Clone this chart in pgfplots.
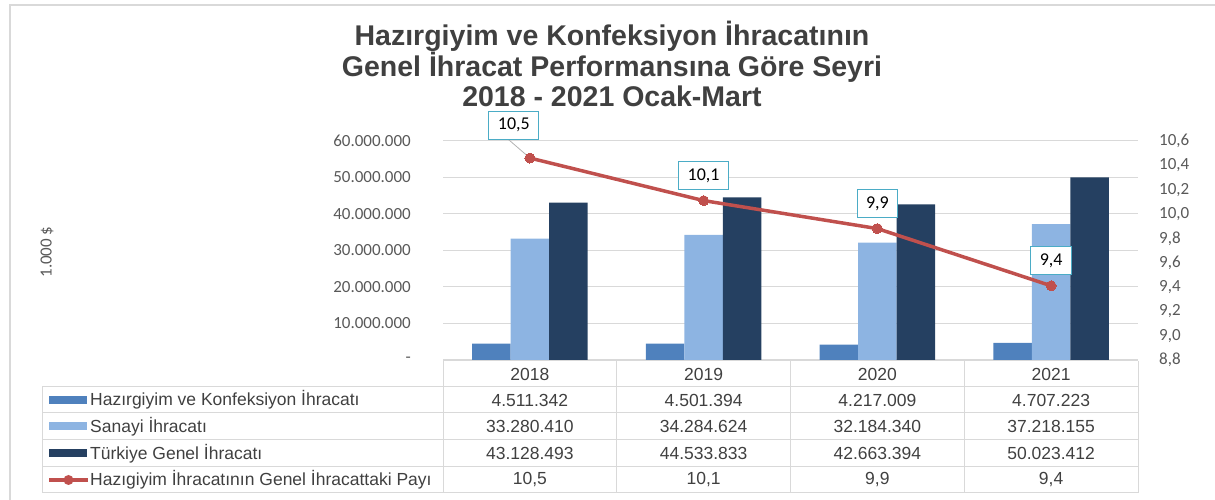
\documentclass[border=0pt]{standalone}
\usepackage{pgfplots}
\pgfplotsset{compat=1.18}
\usepackage{fontspec}
\setmainfont{Carlito}
\newfontfamily\titlefont{Liberation Sans}
\newfontfamily\tabfont{Liberation Sans}
\definecolor{cA}{RGB}{79,129,189}
\definecolor{cB}{RGB}{141,180,226}
\definecolor{cC}{RGB}{37,64,97}
\definecolor{cred}{RGB}{192,80,77}
\definecolor{cteal}{RGB}{75,172,198}
\definecolor{gridgray}{RGB}{217,217,217}
\definecolor{tickgray}{RGB}{89,89,89}
\definecolor{txtgray}{RGB}{64,64,64}
\begin{document}
\begin{tikzpicture}[x=1pt,y=1pt]
\useasboundingbox (0,0) rectangle (1215,500);
\draw[line width=1.5pt, gridgray] (10,0) -- (10,495) -- (1215,495);
\node[align=center, text=txtgray, font=\titlefont\bfseries\fontsize{28.5}{30.5}\selectfont] at (612,436)
  {Hazırgiyim ve Konfeksiyon İhracatının\\Genel İhracat Performansına Göre Seyri\\2018 - 2021 Ocak-Mart};
\node[rotate=90, text=tickgray, font=\fontsize{17}{20}\selectfont] at (47,248) {1.000 \$};

\begin{axis}[at={(443pt,140pt)}, anchor=south west, scale only axis,
  width=695pt, height=219pt,
  xmin=-0.5, xmax=3.5, ymin=0, ymax=60000000,
  ybar, bar width=38.5pt,
  xtick=\empty, scaled y ticks=false,
  ytick={0,10000000,20000000,30000000,40000000,50000000,60000000},
  yticklabels={-\hspace{7pt},10.000.000,20.000.000,30.000.000,40.000.000,50.000.000,60.000.000},
  ymajorgrids, grid style={color=gridgray, line width=1pt},
  axis line style={draw=none}, major tick length=0pt,
  yticklabel style={anchor=east, inner sep=0pt, xshift=-32pt, text=tickgray, font=\fontsize{17}{20}\selectfont},
  clip=false]
\addplot[fill=cA, draw=none, bar shift=-38.5pt] coordinates {(0,4511342) (1,4501394) (2,4217009) (3,4707223)};
\addplot[fill=cB, draw=none, bar shift=0pt] coordinates {(0,33280410) (1,34284624) (2,32184340) (3,37218155)};
\addplot[fill=cC, draw=none, bar shift=38.5pt] coordinates {(0,43128493) (1,44533833) (2,42663394) (3,50023412)};
\end{axis}

\begin{axis}[at={(443pt,140pt)}, anchor=south west, scale only axis,
  width=695pt, height=219pt,
  xmin=-0.5, xmax=3.5, ymin=8.8, ymax=10.6,
  hide x axis, axis y line*=right, axis line style={draw=none},
  major tick length=0pt,
  ytick={8.8,9.0,9.2,9.4,9.6,9.8,10.0,10.2,10.4,10.6},
  /pgf/number format/.cd, use comma, fixed, fixed zerofill, precision=1, assume math mode=true,
  /pgfplots/.cd,
  yticklabel style={anchor=west, inner sep=0pt, xshift=21pt, text=tickgray, font=\fontsize{17}{20}\selectfont},
  clip=false]
\draw[gray!60, line width=0.8pt] (axis cs:0,10.46) -- ++(-22pt,19pt);
\addplot[color=cred, line width=3.5pt, mark=*, mark size=5pt, mark options={fill=cred, draw=cred, line width=0pt},
  nodes near coords, point meta=explicit symbolic,
  every node near coord/.style={anchor=center, yshift=25pt, draw=cteal, fill=white, line width=1pt,
     minimum height=28pt, inner xsep=9pt, text=black, font=\fontsize{18}{21}\selectfont},
  coordinate style/.condition={x==0}{xshift=-16pt, yshift=8pt}]
 table[meta=lab] {
x y lab
0 10.46 10,5
1 10.11 10,1
2 9.88 9,9
3 9.41 9,4
};
\end{axis}

% data table
\begin{scope}[gridgray, line width=1pt]
\draw (443,139) -- (1138,139);
\foreach \yy in {113,87,60,33,7} {\draw (42,\yy) -- (1138,\yy);}
\draw (42,113) -- (42,7);
\foreach \xx in {443,616.75,790.5,964.25,1138} {\draw (\xx,139) -- (\xx,7);}
\end{scope}
\begin{scope}[font=\tabfont\fontsize{17.5}{20}\selectfont, text=txtgray]
\foreach \xc/\yr in {529.9/2018,703.6/2019,877.4/2020,1051.1/2021} {\node at (\xc,126) {\yr};}
\node at (529.9,100) {4.511.342}; \node at (703.6,100) {4.501.394}; \node at (877.4,100) {4.217.009}; \node at (1051.1,100) {4.707.223};
\node at (529.9,73.5) {33.280.410}; \node at (703.6,73.5) {34.284.624}; \node at (877.4,73.5) {32.184.340}; \node at (1051.1,73.5) {37.218.155};
\node at (529.9,46.5) {43.128.493}; \node at (703.6,46.5) {44.533.833}; \node at (877.4,46.5) {42.663.394}; \node at (1051.1,46.5) {50.023.412};
\node at (529.9,20) {10,5}; \node at (703.6,20) {10,1}; \node at (877.4,20) {9,9}; \node at (1051.1,20) {9,4};
\node[anchor=west, inner sep=0pt] at (90,100) {Hazırgiyim ve Konfeksiyon İhracatı};
\node[anchor=west, inner sep=0pt] at (90,73.5) {Sanayi İhracatı};
\node[anchor=west, inner sep=0pt] at (90,46.5) {Türkiye Genel İhracatı};
\node[anchor=west, inner sep=0pt] at (90,20) {Hazıgiyim İhracatının Genel İhracattaki Payı};
\end{scope}
\fill[cA] (49,96) rectangle (87,104);
\fill[cB] (49,69.5) rectangle (87,77.5);
\fill[cC] (49,42.5) rectangle (87,50.5);
\draw[cred, line width=3.5pt] (49,20) -- (88,20);
\fill[cred] (68.5,20) circle (5pt);
\end{tikzpicture}
\end{document}
